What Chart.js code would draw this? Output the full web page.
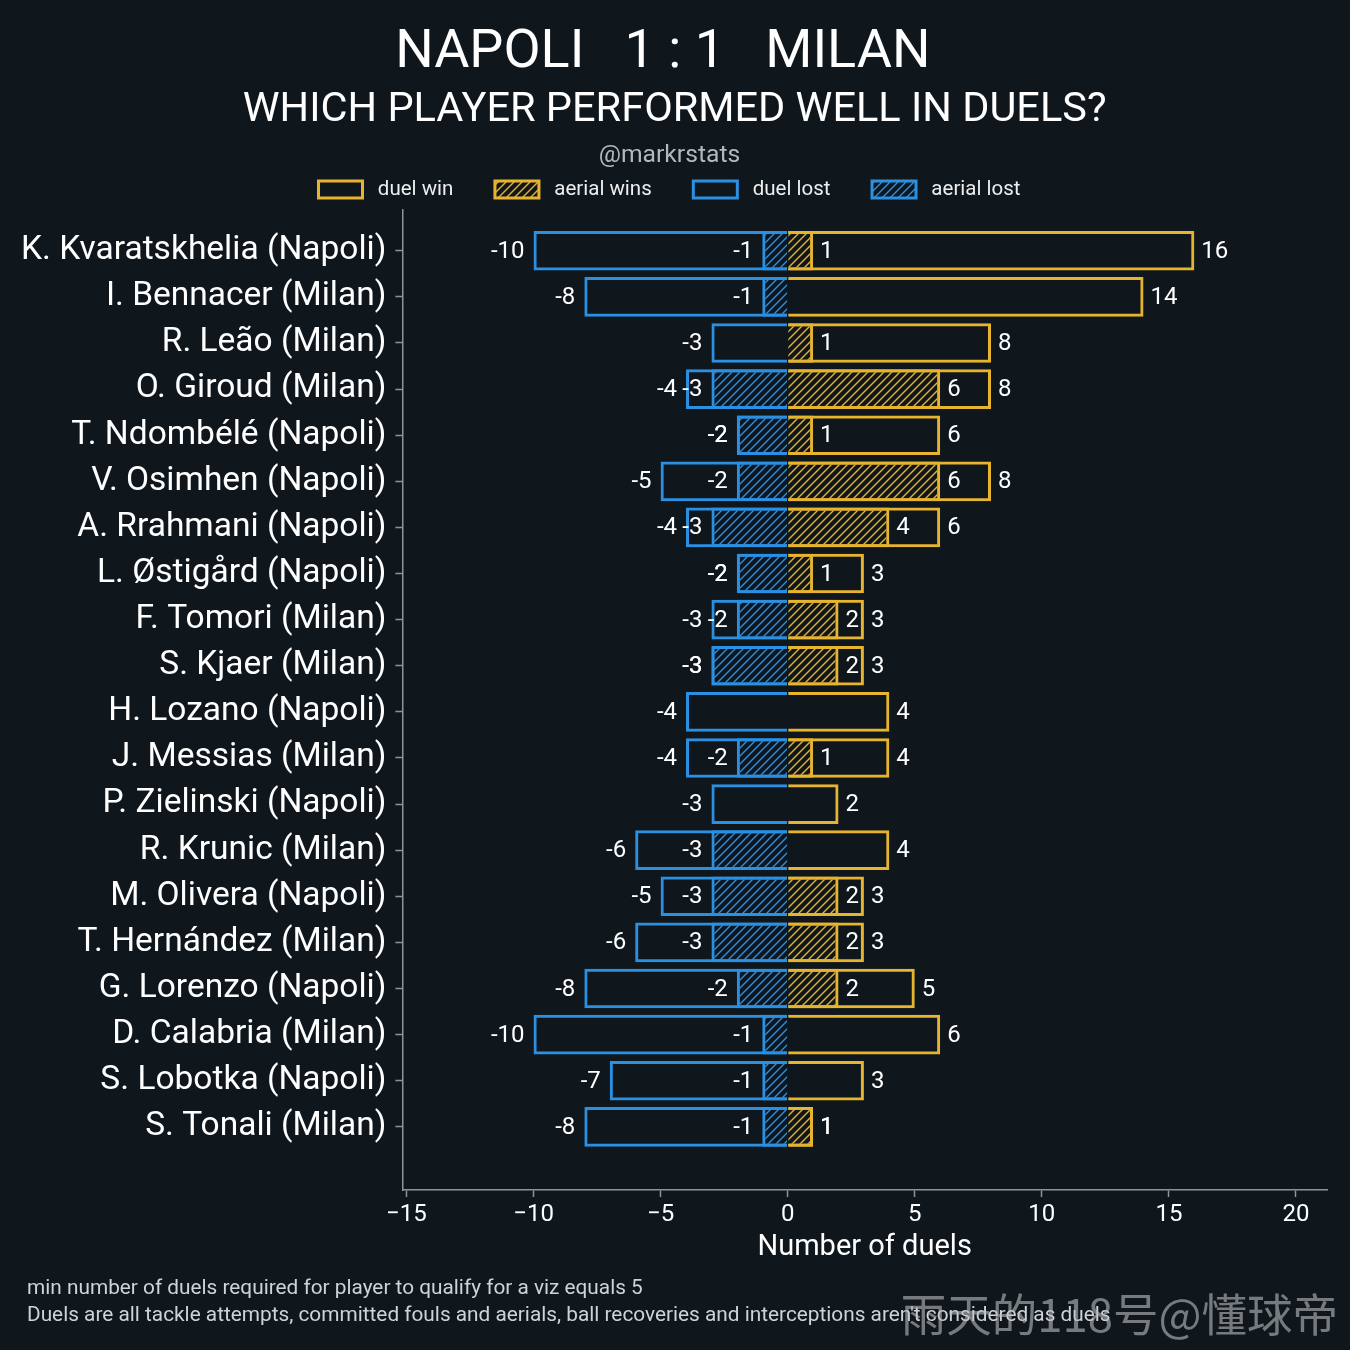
<!DOCTYPE html>
<html>
<head>
<meta charset="utf-8">
<script src="https://cdn.jsdelivr.net/npm/chart.js@4.4.1/dist/chart.umd.min.js"></script>
<style>
  html, body { margin: 0; padding: 0; background: #0f171d; }
</style>
</head>
<body>
<canvas id="chart" width="1350" height="1350"></canvas>
<script>
// players, top to bottom
const players = [
    "K. Kvaratskhelia (Napoli)", "I. Bennacer (Milan)", "R. Leão (Milan)", "O. Giroud (Milan)",
    "T. Ndombélé (Napoli)", "V. Osimhen (Napoli)", "A. Rrahmani (Napoli)", "L. Østigård (Napoli)",
    "F. Tomori (Milan)", "S. Kjaer (Milan)", "H. Lozano (Napoli)", "J. Messias (Milan)",
    "P. Zielinski (Napoli)", "R. Krunic (Milan)", "M. Olivera (Napoli)", "T. Hernández (Milan)",
    "G. Lorenzo (Napoli)", "D. Calabria (Milan)", "S. Lobotka (Napoli)", "S. Tonali (Milan)"
];
const duelWin    = [16, 14, 8, 8, 6, 8, 6, 3, 3, 3, 4, 4, 2, 4, 3, 3, 5, 6, 3, 1];
const aerialWin  = [1, 0, 1, 6, 1, 6, 4, 1, 2, 2, 0, 1, 0, 0, 2, 2, 2, 0, 0, 1];
const duelLost   = [-10, -8, -3, -4, -2, -5, -4, -2, -3, -3, -4, -4, -3, -6, -5, -6, -8, -10, -7, -8];
const aerialLost = [-1, -1, 0, -3, -2, -2, -3, -2, -2, -3, 0, -2, 0, -3, -3, -3, -2, -1, -1, -1];
const xTicks = [-15, -10, -5, 0, 5, 10, 15, 20];

const YELLOW = "#e6b42f";
const BLUE = "#2b90e2";
const SPINE = "#8b969c";

// diagonal "////" fill
function hatch(color) {
    const c = document.createElement("canvas");
    c.width = 8; c.height = 8;
    const g = c.getContext("2d");
    g.strokeStyle = color;
    g.lineWidth = 1.4;
    g.beginPath();
    g.moveTo(0, 8); g.lineTo(8, 0);
    g.moveTo(-2, 2); g.lineTo(2, -2);
    g.moveTo(6, 10); g.lineTo(10, 6);
    g.stroke();
    return g.createPattern(c, "repeat");
}

// zero values get no bar
const toPoints = arr => arr.map((v, i) => ({ x: v, y: i })).filter(p => p.x !== 0);

function barSet(label, arr, color, fill) {
    return {
        label: label,
        data: toPoints(arr),
        backgroundColor: fill,
        borderColor: color,
        borderWidth: 3,
        grouped: false,
        categoryPercentage: 1,
        barPercentage: 0.86,
    };
}

const valueLabels = {
    id: "valueLabels",
    afterDatasetsDraw(chart) {
        const ctx = chart.ctx;
        ctx.save();
        ctx.font = "24px Roboto";
        ctx.fillStyle = "#ffffff";
        ctx.textBaseline = "middle";
        chart.data.datasets.forEach((ds, di) => {
            chart.getDatasetMeta(di).data.forEach((bar, i) => {
                const v = ds.data[i].x;
                ctx.textAlign = v < 0 ? "right" : "left";
                ctx.fillText(String(v), bar.x + (v < 0 ? -9 : 7), bar.y + 1);
            });
        });
        ctx.restore();
    }
};

const footer = {
    id: "footer",
    afterDraw(chart) {
        const ctx = chart.ctx;
        ctx.save();
        ctx.font = "20.8px Roboto";
        ctx.fillStyle = "#cfd3d6";
        ctx.textAlign = "left";
        ctx.textBaseline = "middle";
        ctx.fillText("min number of duels required for player to qualify for a viz equals 5", 27, 1289);
        ctx.fillText("Duels are all tackle attempts, committed fouls and aerials, ball recoveries and interceptions aren't considered as duels", 27, 1316);
        ctx.font = "45.5px 'Noto Sans CJK SC'";
        ctx.fillStyle = "rgba(190,190,190,0.6)";
        ctx.textAlign = "right";
        ctx.fillText("雨天的118号@懂球帝", 1338, 1315);
        ctx.restore();
    }
};

let duelChart;

function initChart() {
    const ctx = document.getElementById("chart");
    duelChart = new Chart(ctx, {
        type: "bar",
        data: {
            datasets: [
                barSet("duel win", duelWin, YELLOW, "rgba(0,0,0,0)"),
                barSet("aerial wins", aerialWin, YELLOW, hatch(YELLOW)),
                barSet("duel lost", duelLost, BLUE, "rgba(0,0,0,0)"),
                barSet("aerial lost", aerialLost, BLUE, hatch(BLUE)),
            ],
        },
        plugins: [valueLabels, footer],
        options: {
            indexAxis: "y",
            responsive: false,
            devicePixelRatio: 1,
            animation: false,
            layout: { padding: { left: 12, right: 23, top: 0, bottom: 88 } },
            plugins: {
                tooltip: { enabled: false },
                title: {
                    display: true,
                    text: "NAPOLI   1 : 1   MILAN ",
                    color: "#ffffff",
                    font: { family: "Roboto", size: 54, weight: "normal", lineHeight: 1.2 },
                    padding: { top: 21, bottom: 0 },
                },
                subtitle: {
                    display: true,
                    text: " WHICH PLAYER PERFORMED WELL IN DUELS?",
                    color: "#ffffff",
                    font: { family: "Roboto", size: 41.5, weight: "normal", lineHeight: 1.2 },
                    padding: { top: 0, bottom: 0 },
                },
                legend: {
                    position: "top",
                    title: {
                        display: true,
                        text: "@markrstats",
                        color: "#b3b8bb",
                        font: { family: "Roboto", size: 24.7 },
                        padding: { top: 8, bottom: 0 },
                    },
                    labels: {
                        color: "#eeeeee",
                        font: { family: "Roboto", size: 20.5 },
                        boxWidth: 44,
                        boxHeight: 17,
                        padding: 6,
                        // widen the gaps between entries
                        generateLabels: chart => {
                            const items = Chart.defaults.plugins.legend.labels.generateLabels(chart);
                            items.forEach((it, i) => {
                                it.text = " " + it.text + (i < items.length - 1 ? "       " : "");
                            });
                            return items;
                        },
                    },
                },
            },
            scales: {
                x: {
                    type: "linear",
                    min: -15.16,
                    max: 21.22,
                    afterBuildTicks: axis => { axis.ticks = xTicks.map(v => ({ value: v })); },
                    ticks: {
                        color: "#ffffff",
                        font: { family: "Roboto", size: 24, lineHeight: 1.0 },
                        padding: 6,
                        callback: v => v < 0 ? "\u2212" + Math.abs(v) : String(v),
                    },
                    grid: { drawOnChartArea: false, drawTicks: true, tickLength: 7, tickWidth: 1.5, color: SPINE },
                    border: { display: true, color: SPINE, width: 1.5 },
                    title: {
                        display: true,
                        text: "Number of duels",
                        color: "#ffffff",
                        font: { family: "Roboto", size: 29, lineHeight: 1.0 },
                        padding: { top: 0, bottom: 0 },
                    },
                },
                y: {
                    type: "linear",
                    reverse: true,
                    offset: false,
                    min: -0.89,
                    max: 20.37,
                    afterBuildTicks: axis => { axis.ticks = players.map((_, i) => ({ value: i })); },
                    ticks: {
                        color: "#ffffff",
                        font: { family: "Roboto", size: 33.5 },
                        padding: 9,
                        callback: v => players[v],
                    },
                    grid: { offset: false, drawOnChartArea: false, drawTicks: true, tickLength: 7, tickWidth: 1.5, color: SPINE },
                    border: { display: true, color: SPINE, width: 1.5 },
                },
            },
        },
    });
}

window.addEventListener("DOMContentLoaded", () => {
    initChart();
});
</script>
</body>
</html>
